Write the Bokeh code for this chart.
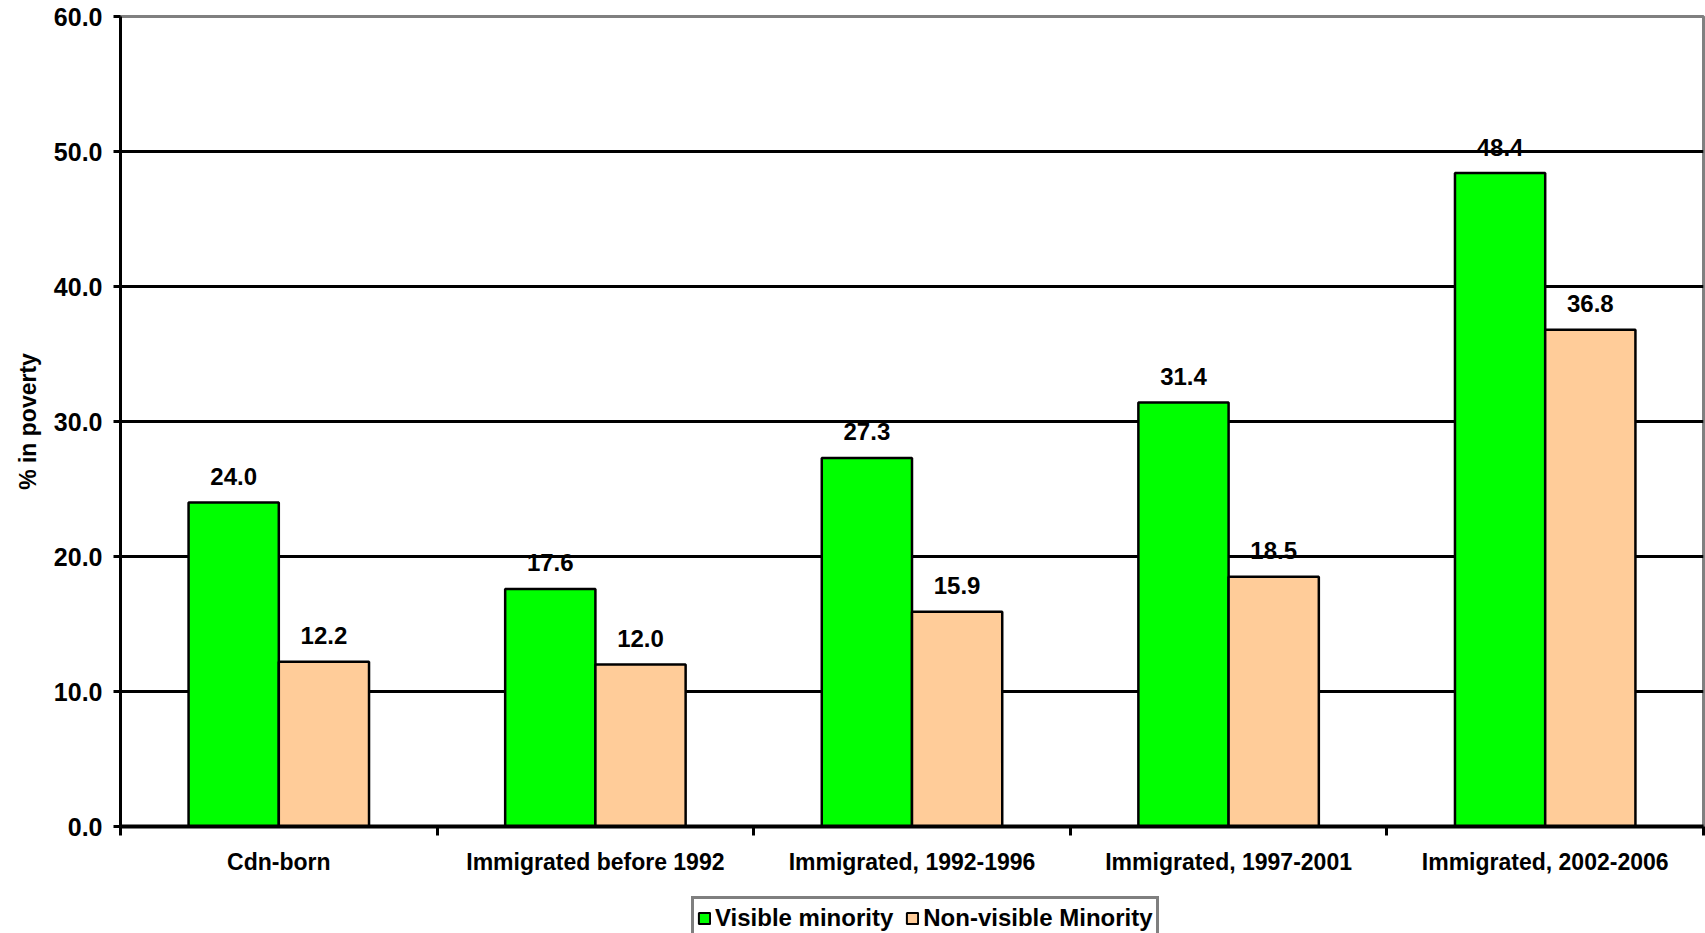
from bokeh.plotting import figure
from bokeh.layouts import column
from bokeh.models import (ColumnDataSource, Range1d, FixedTicker, NumeralTickFormatter,
                          LabelSet, Legend, LegendItem)
from bokeh.transform import dodge
from bokeh.core.properties import value
from bokeh.embed import file_html
from bokeh.resources import INLINE

categories = ["Cdn-born", "Immigrated before 1992", "Immigrated, 1992-1996",
              "Immigrated, 1997-2001", "Immigrated, 2002-2006"]
visible = [24.0, 17.6, 27.3, 31.4, 48.4]
non_visible = [12.2, 12.0, 15.9, 18.5, 36.8]
y_ticks = [0, 10, 20, 30, 40, 50, 60]
series_names = ["Visible minority", "Non-visible Minority"]
series_colors = ["#00FF00", "#FFCC99"]

FONT = "Liberation Sans"
FS = "23px"

xpos = [i + 0.5 for i in range(len(categories))]
src = ColumnDataSource(dict(
    x=xpos, cat=categories, vis=visible, nonvis=non_visible,
    vis_lbl=[f"{v:.1f}" for v in visible],
    non_lbl=[f"{v:.1f}" for v in non_visible],
))

p = figure(width=1705, height=895, output_backend="svg", toolbar_location=None,
           x_range=Range1d(0, len(categories)), y_range=Range1d(0, 60),
           min_border_left=120, min_border_right=2, min_border_top=16,
           min_border_bottom=69)

bw = 0.285
r1 = p.vbar(x=dodge("x", -bw / 2, range=p.x_range), top="vis", width=bw, source=src,
            fill_color=series_colors[0], line_color="black", line_width=2.5)
r2 = p.vbar(x=dodge("x", bw / 2, range=p.x_range), top="nonvis", width=bw, source=src,
            fill_color=series_colors[1], line_color="black", line_width=2.5)

for col, lbl, off in (("vis", "vis_lbl", -bw / 2), ("nonvis", "non_lbl", bw / 2)):
    ls = LabelSet(x=dodge("x", off, range=p.x_range), y=col, text=lbl, source=src,
                  y_offset=26, text_align="center", text_baseline="middle",
                  text_font=value(FONT), text_font_size="24px", text_font_style="bold",
                  text_color="black")
    p.add_layout(ls)

# x axis: category labels at centers, tick marks at boundaries
xa = p.xaxis[0]
xa.ticker = FixedTicker(ticks=xpos, minor_ticks=list(range(len(categories) + 1)))
xa.major_label_overrides = {x: c for x, c in zip(xpos, categories)}
xa.major_tick_out = 0
xa.major_tick_in = 0
xa.minor_tick_out = 9
xa.minor_tick_in = 0
xa.minor_tick_line_color = "black"
xa.minor_tick_line_width = 3
xa.axis_line_color = "black"
xa.axis_line_width = 4
xa.major_label_standoff = 13
xa.major_label_text_font = FONT
xa.major_label_text_font_size = FS
xa.major_label_text_font_style = "bold"
xa.major_label_text_color = "black"

ya = p.yaxis[0]
ya.ticker = FixedTicker(ticks=y_ticks)
ya.formatter = NumeralTickFormatter(format="0.0")
ya.major_tick_out = 7
ya.major_tick_in = 0
ya.minor_tick_out = 0
ya.minor_tick_in = 0
ya.major_tick_line_width = 3
ya.axis_line_color = "black"
ya.axis_line_width = 3
ya.major_label_standoff = 11
ya.major_label_text_font = FONT
ya.major_label_text_font_size = "25px"
ya.major_label_text_font_style = "bold"
ya.major_label_text_color = "black"
ya.axis_label = "% in poverty"
ya.axis_label_standoff = 10
ya.axis_label_text_font = FONT
ya.axis_label_text_font_size = FS
ya.axis_label_text_font_style = "bold"
ya.axis_label_text_color = "black"

p.xgrid.grid_line_color = None
p.ygrid.ticker = FixedTicker(ticks=y_ticks[1:-1])
p.ygrid.grid_line_color = "black"
p.ygrid.grid_line_width = 3
p.outline_line_color = "#808080"
p.outline_line_width = 3
p.background_fill_color = "white"
p.border_fill_color = "white"

# legend strip below the chart (hidden renderers, only their legend swatches show)
p2 = figure(width=1705, height=38, output_backend="svg", toolbar_location=None,
            x_range=Range1d(0, len(categories)), y_range=Range1d(0, 60),
            min_border=0, min_border_left=0, min_border_right=0,
            min_border_top=0, min_border_bottom=0)
p2.axis.visible = False
p2.grid.grid_line_color = None
p2.outline_line_color = None
p2.border_fill_color = "white"
lr = [p2.vbar(x="x", top=col, width=bw, source=src, fill_color=c,
              line_color="black", line_width=2, visible=False)
      for col, c in zip(["vis", "nonvis"], series_colors)]
legend = Legend(items=[LegendItem(label=n, renderers=[r]) for n, r in zip(series_names, lr)],
                orientation="horizontal", location=(571, -7),
                label_text_font=FONT, label_text_font_size="24px",
                label_text_font_style="bold", label_text_color="black",
                glyph_width=14, glyph_height=14, label_standoff=4, spacing=12,
                padding=3, margin=0, label_height=32,
                border_line_color="black", border_line_width=3,
                inactive_fill_alpha=0.0,
                background_fill_alpha=1.0)
p2.add_layout(legend, "center")

layout = column(p, p2, spacing=0)
open("out.html", "w").write(file_html(layout, INLINE))
